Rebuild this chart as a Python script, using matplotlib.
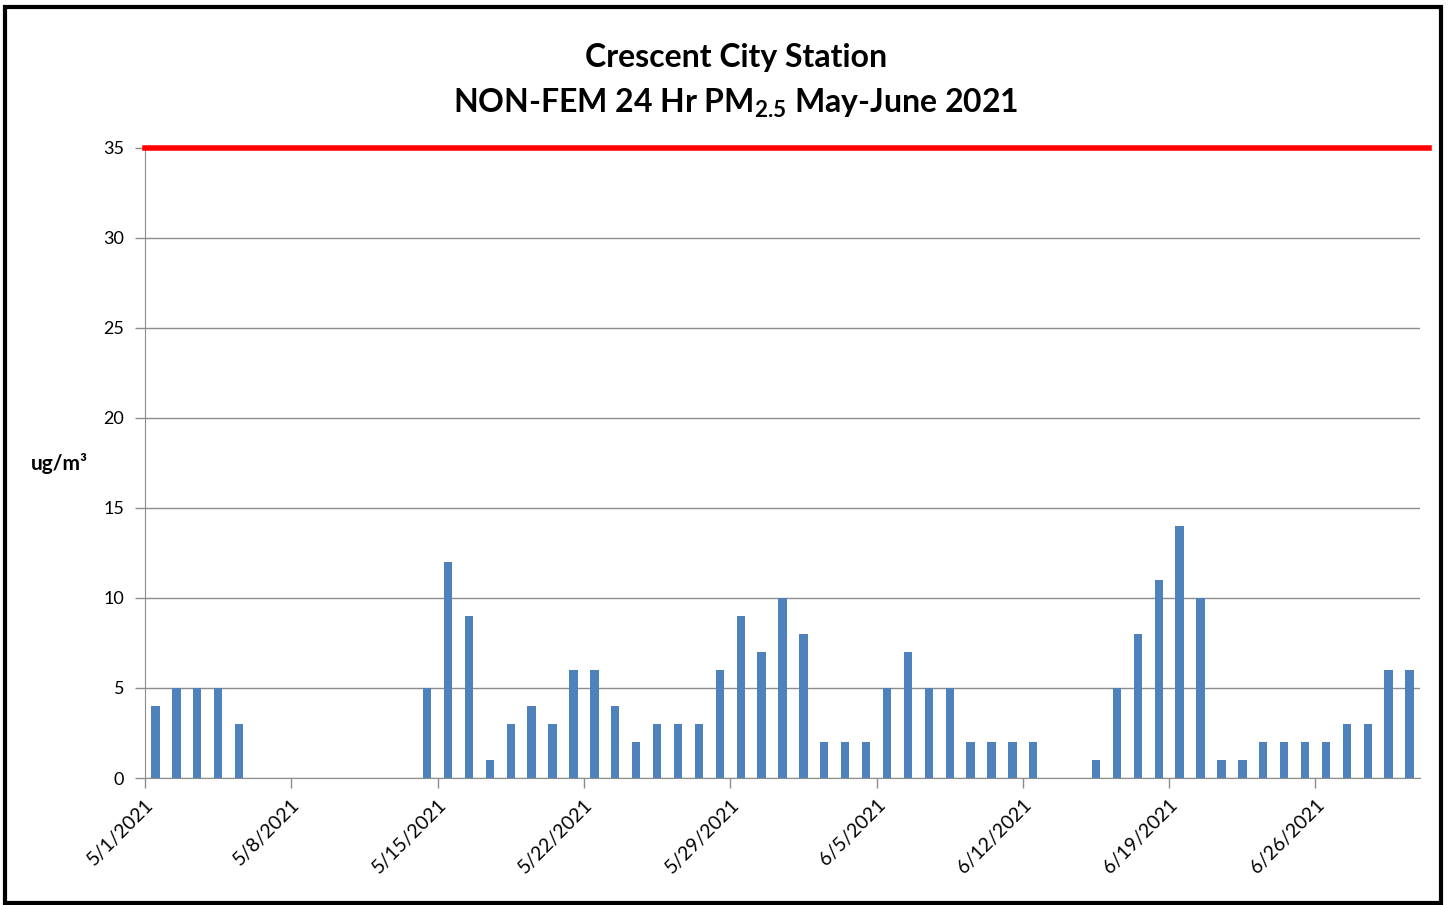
import numpy as np
import pandas as pd
import matplotlib
matplotlib.use("Agg")
import matplotlib.pyplot as plt
import matplotlib.dates as mdates
from matplotlib.patches import Rectangle

plt.rcParams['font.family'] = ['Lato', 'DejaVu Sans']
plt.rcParams['mathtext.fontset'] = 'custom'
plt.rcParams['mathtext.rm'] = 'Lato'
plt.rcParams['mathtext.bf'] = 'Lato:bold'

# daily 24 hr PM2.5 values, nan = no data
dias = pd.date_range("2021-05-01", "2021-06-30", freq="D")
valores_mayo = [4, 5, 5, 5, 3, np.nan, np.nan, np.nan, np.nan, np.nan, np.nan, np.nan, np.nan,
                5, 12, 9, 1, 3, 4, 3, 6, 6, 4, 2, 3, 3, 3, 6, 9, 7, 10]
valores_junio = [8, 2, 2, 2, 5, 7, 5, 5, 2, 2, 2, 2, np.nan, np.nan,
                 1, 5, 8, 11, 14, 10, 1, 1, 2, 2, 2, 2, 3, 3, 6, 6]
valores = valores_mayo + valores_junio
estandar = 35
fechas_ticks = pd.date_range("2021-05-01", "2021-06-26", freq="7D")

fig = plt.figure(figsize=(14.49, 9.05), dpi=100)
ax = fig.add_axes([145/1449, 1-778/905, (1420-145)/1449, (778-148)/905])

x = mdates.date2num(dias) + 0.5
ax.bar(x, valores, width=0.4, color="#4F81BD", zorder=3)

ax.set_xlim(mdates.date2num(pd.Timestamp("2021-05-01")), mdates.date2num(pd.Timestamp("2021-07-01")))
ax.set_ylim(0, 35)
ax.set_yticks(range(0, 36, 5))
ax.yaxis.grid(True, color="#8c8c8c", linewidth=1)
ax.set_axisbelow(True)

# linea del estandar 24 hr
ax.axhline(estandar, xmin=0, xmax=1.007, color="red", linewidth=4, clip_on=False, zorder=4)

ax.set_xticks(mdates.date2num(fechas_ticks))
ax.set_xticklabels([f"{d.month}/{d.day}/{d.year}" for d in fechas_ticks],
                   rotation=45, ha="right", rotation_mode="anchor")

for s in ["top", "right"]:
    ax.spines[s].set_visible(False)
for s in ["left", "bottom"]:
    ax.spines[s].set_color("#8c8c8c")
ax.tick_params(axis="both", colors="#8c8c8c", labelcolor="black", labelsize=13, length=7, width=1)
ax.tick_params(axis="x", labelsize=14, pad=6)
ax.tick_params(axis="y", pad=8)

fig.text(0.508, 1-58/905, "Crescent City Station", ha="center", va="center",
         fontsize=23, fontweight="bold")
fig.text(0.508, 1-103/905, r"NON-FEM 24 Hr PM$_\mathbf{2.5}$ May-June 2021", ha="center", va="center",
         fontsize=23, fontweight="bold")
fig.text(59/1449, 1-463/905, "ug/m³", ha="center", va="center", fontsize=15, fontweight="bold")

fig.patches.append(Rectangle((5/1449, 1-903/905), 1436/1449, 896/905, transform=fig.transFigure,
                             fill=False, edgecolor="black", linewidth=3))

fig.savefig("out.png", dpi=100)
